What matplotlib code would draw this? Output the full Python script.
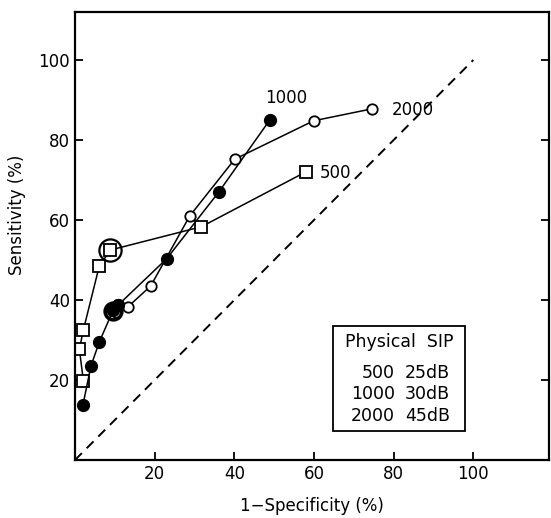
import matplotlib
matplotlib.use('Agg')
import matplotlib.pyplot as plt

# ROC points (1-specificity %, sensitivity %)
fpr_500 = [2.1, 1.1, 2.1, 6.1, 8.9, 31.7, 57.9]
tpr_500 = [19.8, 27.7, 32.5, 48.5, 52.5, 58.3, 72.0]

fpr_1000 = [2.0, 4.0, 6.1, 9.6, 10.9, 23.0, 36.1, 48.9]
tpr_1000 = [13.8, 23.5, 29.5, 37.5, 38.8, 50.3, 67.0, 85.0]

fpr_2000 = [10.2, 13.3, 19.0, 28.8, 40.1, 59.9, 74.6]
tpr_2000 = [37.0, 38.3, 43.5, 61.0, 75.2, 84.8, 87.8]

# circled operating points
circled_500 = (8.9, 52.5)
circled_1000 = (9.6, 37.3)

chance = [0, 100]

legend_freqs = ["500", "1000", "2000"]
legend_levels = ["25dB", "30dB", "45dB"]

ticks = [20, 40, 60, 80, 100]

plt.rcParams['font.family'] = ['DejaVu Sans']

fig = plt.figure(figsize=(5.51, 5.18), dpi=100)
ax = fig.add_axes([75 / 551, 1 - 460 / 518, 474 / 551, 448 / 518])

ax.plot(chance, chance, color='black', lw=1.4, ls=(0, (5, 3.5)))

ax.plot(fpr_500, tpr_500, color='black', lw=1.1, marker='s', ms=8,
        mfc='white', mec='black', mew=1.3)
ax.plot(fpr_1000, tpr_1000, color='black', lw=1.1, marker='o', ms=8.5,
        mfc='black', mec='black')
ax.plot(fpr_2000, tpr_2000, color='black', lw=1.1, marker='o', ms=7.5,
        mfc='white', mec='black', mew=1.3, zorder=3)
ax.plot(fpr_1000[3:5], tpr_1000[3:5], ls='none', marker='o', ms=8.5,
        mfc='black', mec='black', zorder=4)

ax.plot(*circled_500, marker='o', ms=16, mfc='none', mec='black', mew=1.6, zorder=5)
ax.plot(*circled_1000, marker='o', ms=12, mfc='none', mec='black', mew=2.6, zorder=5)

# curve labels
ax.text(53.1, 90.4, "1000", fontsize=12, ha='center', va='center')
ax.text(84.8, 87.5, "2000", fontsize=12, ha='center', va='center')
ax.text(65.4, 71.7, "500", fontsize=12, ha='center', va='center')

# legend box
ax.add_patch(plt.Rectangle((64.7, 7.3), 33.2, 26.2, fill=False, ec='black', lw=1.3))
ax.text(81.3, 29.5, "Physical  SIP", fontsize=12.5, ha='center', va='center')
for i, (f, lv) in enumerate(zip(legend_freqs, legend_levels)):
    y = 21.7 - i * 5.3
    ax.text(80.3, y, f, fontsize=12.5, ha='right', va='center')
    ax.text(82.8, y, lv, fontsize=12.5, ha='left', va='center')

ax.set_xlim(0, 119)
ax.set_ylim(0, 112)
ax.set_xticks(ticks)
ax.set_yticks(ticks)
ax.tick_params(direction='in', length=6, width=1.3, labelsize=12, right=True, top=False)
for s in ax.spines.values():
    s.set_linewidth(1.6)

ax.set_xlabel("1\u2212Specificity (%)", fontsize=12, labelpad=10)
ax.set_ylabel("Sensitivity (%)", fontsize=12)
ax.yaxis.set_label_coords(-0.103, 0.547)

fig.savefig("out.png", dpi=100)
